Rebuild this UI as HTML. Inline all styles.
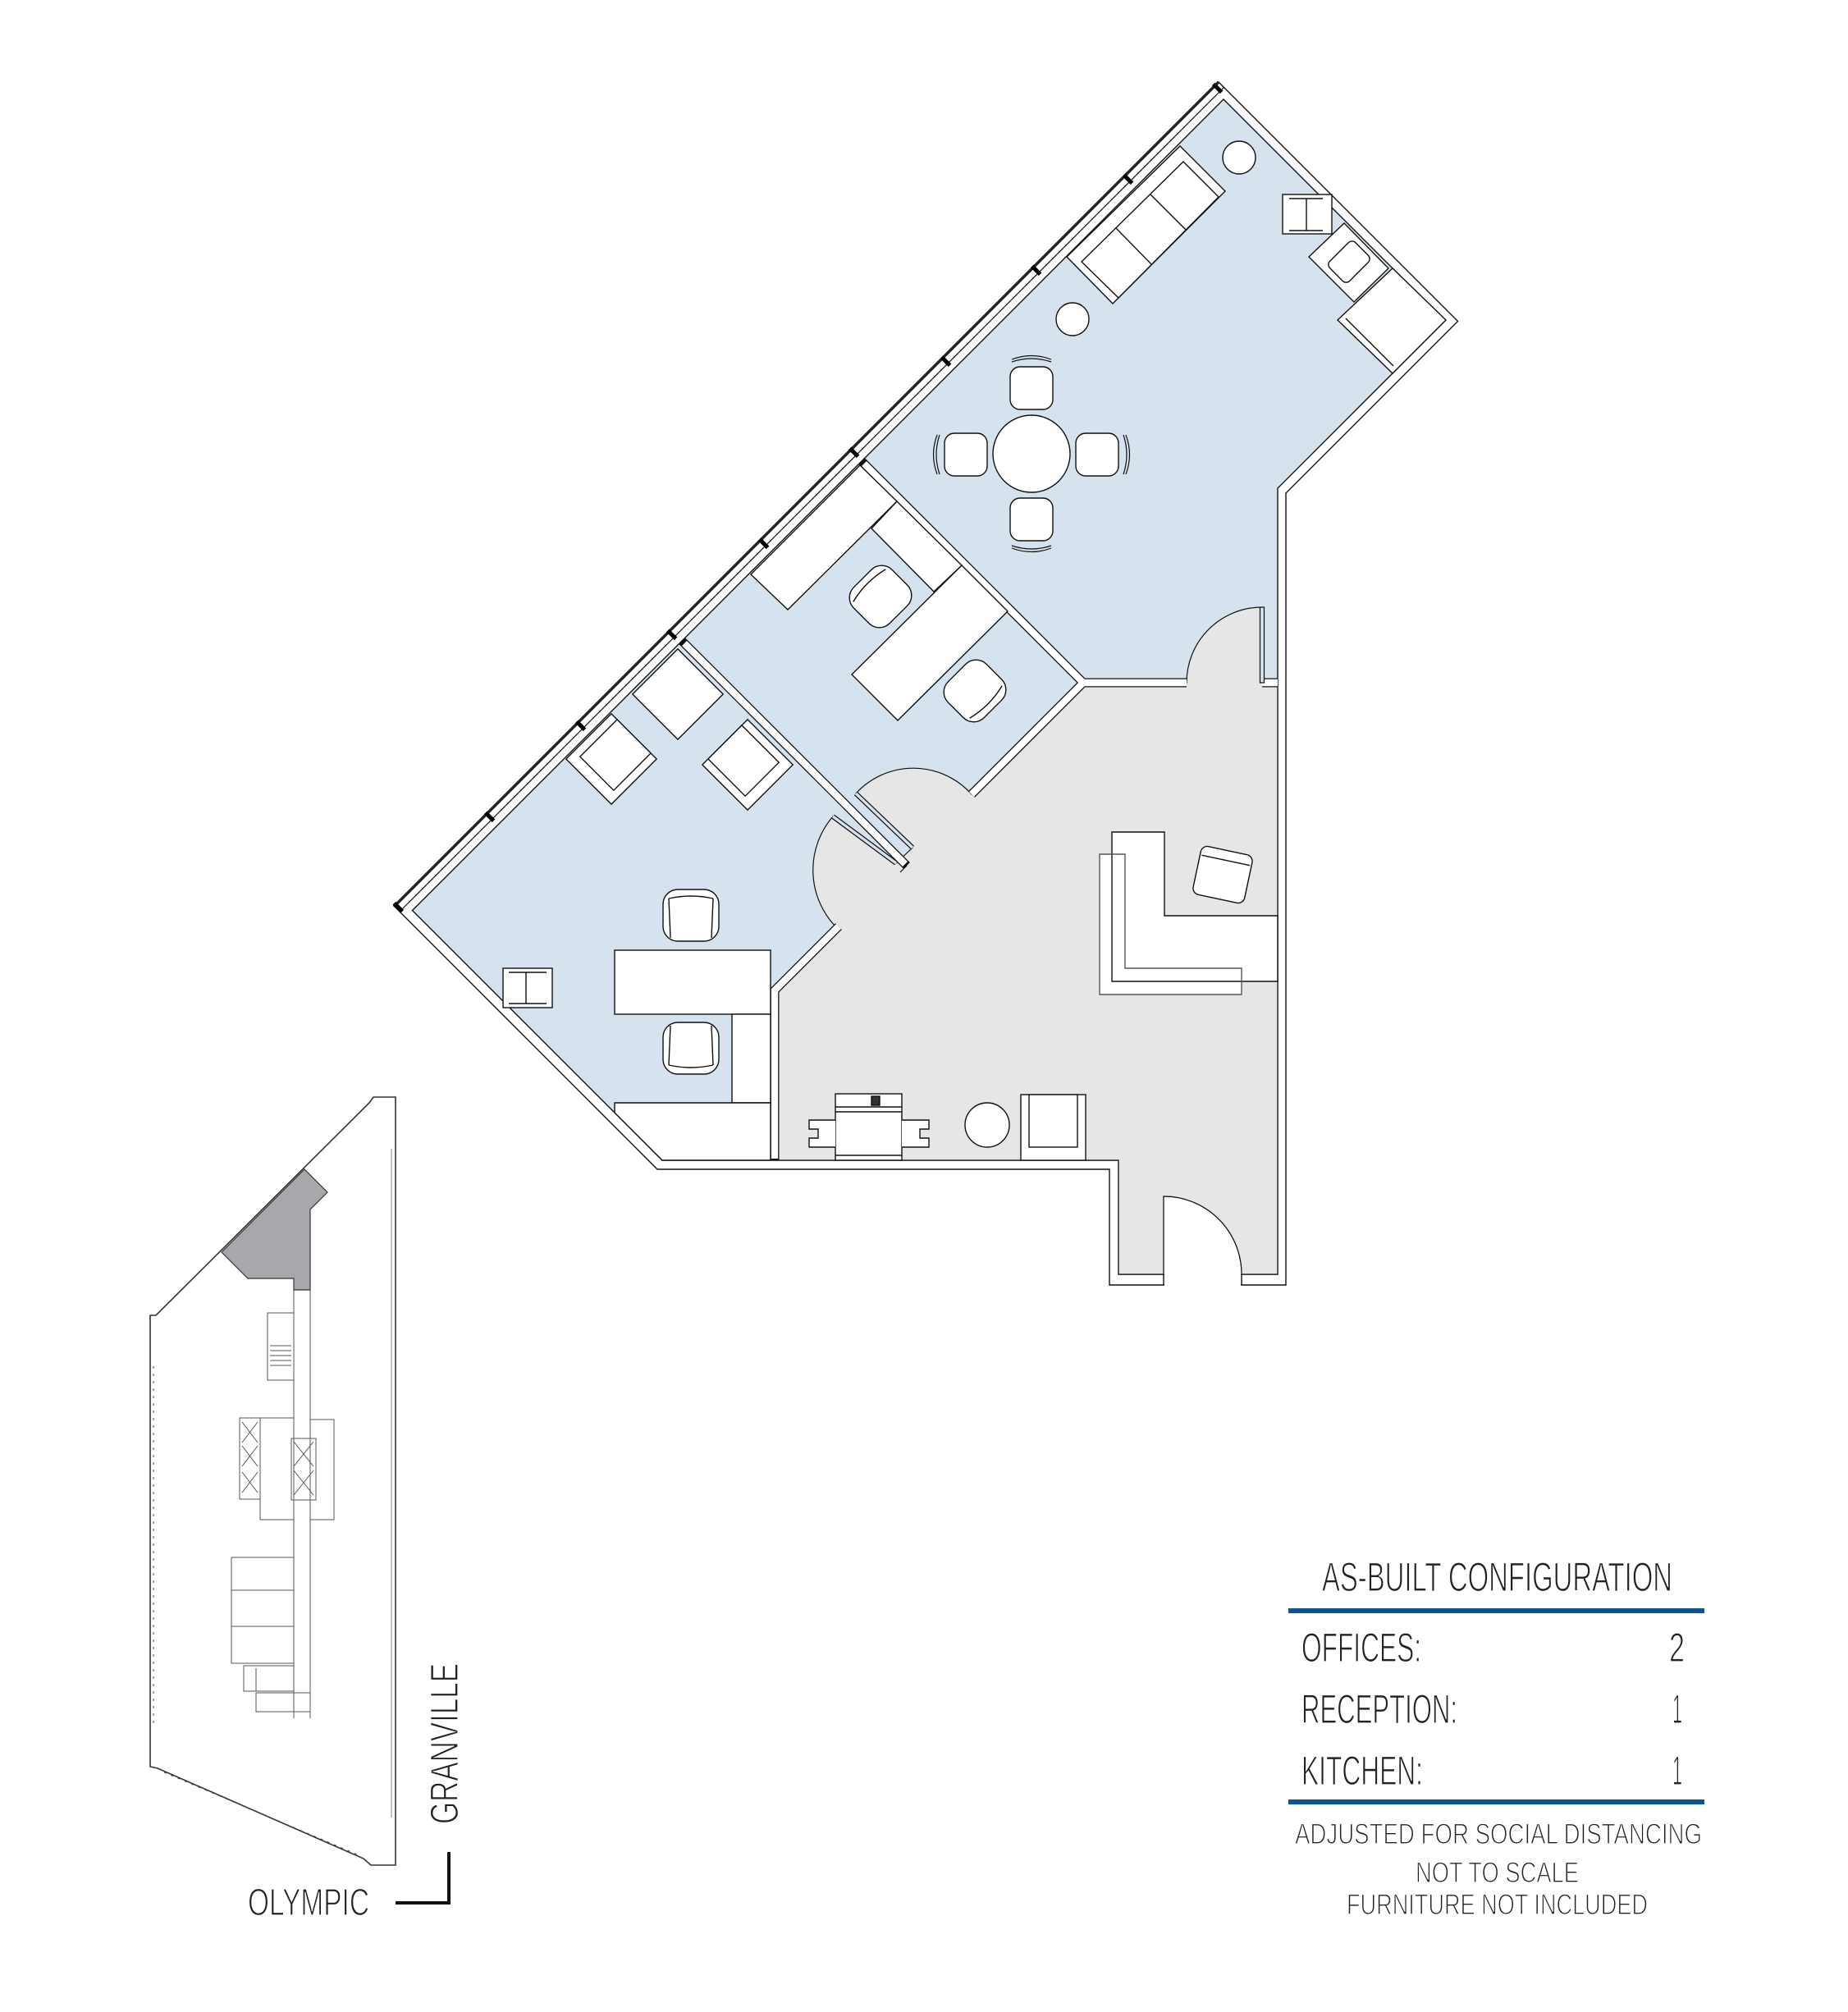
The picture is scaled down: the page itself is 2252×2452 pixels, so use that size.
<!DOCTYPE html>
<html><head><meta charset="utf-8"><style>
html,body{margin:0;padding:0;background:#fff;}
svg{display:block;}
text{font-family:"Liberation Sans Narrow","Liberation Sans",sans-serif;fill:#222;stroke:#fff;stroke-width:1.3;paint-order:fill;}
</style></head><body>
<svg width="2252" height="2452" viewBox="0 0 2252 2452" xmlns="http://www.w3.org/2000/svg">
<rect width="2252" height="2452" fill="#fff"/>
<g stroke="#111" stroke-width="1.4" stroke-linejoin="miter">
<polygon points="480.5,1104.5 1485,100 1776.5,391.5 1567,601 1567,1566 1352,1566 1352,1425 801,1425" fill="#fff"/>
<polygon points="502.5,1109.5 1491,121 1761,391 1557,595 1557,1553 1363,1553 1363,1414 807,1414" fill="#d6e2ee"/>
<path d="M944,1414 L944,1203 L1020,1131 A100 100 0 0 1 1015,995 L1092,1052 L1112,1033 L1043,967 A95 95 0 0 1 1184,968 L1320,832 L1446,832 A92 92 0 0 1 1538,740 L1538,832 L1557,832 L1557,1553 L1513,1553 A95 95 0 0 0 1418,1458 L1418,1553 L1363,1553 L1363,1414 Z" fill="#e6e6e6" stroke-width="1.2"/>
<path d="M1418,1553 L1513,1553 A95 95 0 0 0 1418,1458 Z" fill="#fff" stroke="none"/>
<path d="M1513,1553 A95 95 0 0 0 1418,1458 L1418,1553" fill="none" stroke-width="1.2"/>
<rect x="1419" y="1551" width="93" height="17" fill="#fff" stroke="none"/>
<line x1="1418" y1="1553" x2="1418" y2="1566"/>
<line x1="1513" y1="1553" x2="1513" y2="1566"/>
</g>
<line x1="480" y1="1105" x2="1485" y2="100" stroke="#222" stroke-width="3.5"/>
<line x1="490" y1="1108" x2="1492" y2="106" stroke="#111" stroke-width="1.2"/>
<g fill="#000">
<rect x="483" y="1099" width="5" height="14" transform="rotate(-45 485 1106)"/>
<rect x="594" y="988" width="5" height="14" transform="rotate(-45 597 995)"/>
<rect x="705" y="877" width="5" height="14" transform="rotate(-45 708 884)"/>
<rect x="816" y="766" width="5" height="14" transform="rotate(-45 819 773)"/>
<rect x="928" y="655" width="5" height="14" transform="rotate(-45 931 662)"/>
<rect x="1038" y="544" width="5" height="14" transform="rotate(-45 1041 551)"/>
<rect x="1150" y="433" width="5" height="14" transform="rotate(-45 1153 440)"/>
<rect x="1260" y="322" width="5" height="14" transform="rotate(-45 1263 329)"/>
<rect x="1372" y="211" width="5" height="14" transform="rotate(-45 1375 218)"/>
<rect x="1481" y="100" width="5" height="14" transform="rotate(-45 1484 107)"/>
</g>
<g fill="none" stroke-linecap="butt" stroke-linejoin="miter">
<g stroke="#111" stroke-width="11">
<path d="M1050,562 L1320,832"/>
<path d="M1316,832 L1446,832"/>
<path d="M1538,832 L1557,832"/>
<path d="M1320,832 L1184,968"/>
<path d="M831,781 L1105,1055"/>
<path d="M1022,1129 L944,1207 L944,1414"/>
</g>
<g stroke="#fff" stroke-width="8.4">
<path d="M1053,565 L1320,832"/>
<path d="M1316,832 L1446,832"/>
<path d="M1538,832 L1557,832"/>
<path d="M1320,832 L1184,968"/>
<path d="M834,784 L1103,1053"/>
<path d="M1022,1129 L944,1207 L944,1412"/>
</g>
<g stroke="#111" stroke-width="1.2">
<line x1="1105" y1="1055" x2="1097" y2="1063"/>
<path d="M1092,1052 L1015,995" stroke-width="6"/>
<path d="M1092,1052 L1015,995" stroke="#d6e2ee" stroke-width="3.5"/>
<path d="M1112,1033 L1043,967" stroke-width="6"/>
<path d="M1112,1033 L1043,967" stroke="#d6e2ee" stroke-width="3.5"/>
<rect x="1535.5" y="740" width="5" height="92" fill="#d6e2ee"/>
</g>
</g>
<g stroke="#111" stroke-width="1.4" fill="#fff">
<rect x="749" y="1158" width="190" height="78"/>
<rect x="892" y="1236" width="47" height="108"/>
<polygon points="749,1344 939,1344 939,1414 807,1414 749,1356"/>
<rect x="613" y="1180" width="60" height="48"/>
<line x1="620" y1="1185" x2="666" y2="1185"/><line x1="620" y1="1223" x2="666" y2="1223"/><line x1="641" y1="1185" x2="641" y2="1223"/>
<g transform="translate(842,1115)"><rect x="-34" y="-31" width="68" height="63" rx="18"/><path d="M-27,-20 Q0,-26 27,-20" fill="none"/><line x1="-27" y1="-20" x2="-25" y2="28" /><line x1="27" y1="-20" x2="25" y2="28"/></g>
<g transform="translate(842,1278)"><rect x="-34" y="-32" width="68" height="63" rx="18"/><path d="M-27,20 Q0,26 27,20" fill="none"/><line x1="-27" y1="20" x2="-25" y2="-28"/><line x1="27" y1="20" x2="25" y2="-28"/></g>
<g transform="rotate(45 745 925)"><rect x="706" y="886" width="78" height="78"/><rect x="716" y="886" width="58" height="64"/></g>
<g transform="rotate(-45 911 932)"><rect x="872" y="893" width="78" height="78"/><rect x="882" y="893" width="58" height="64"/></g>
<rect x="787" y="807" width="78" height="78" transform="rotate(45 826 846)"/>
<polygon points="915,700 960,743 1093,611 1048,567"/>
<polygon points="1062,644 1138,721 1172,689 1093,611"/>
<polygon points="1038,822 1094,878 1228,745 1172,689"/>
<g transform="translate(1073,727) rotate(-45)"><rect x="-33" y="-31" width="66" height="62" rx="18"/><path d="M-28,-19 Q0,-26 28,-19" fill="none"/></g>
<g transform="translate(1188,842) rotate(-45)"><rect x="-33" y="-31" width="66" height="62" rx="18"/><path d="M-28,19 Q0,26 28,19" fill="none"/></g>
<circle cx="1257" cy="553" r="47"/>
<rect x="1231" y="447" width="52" height="52" rx="12"/>
<rect x="1231" y="607" width="52" height="52" rx="12"/>
<rect x="1151" y="528" width="52" height="52" rx="12"/>
<rect x="1311" y="528" width="52" height="52" rx="12"/>
<g fill="none" stroke-width="1.2">
<path d="M1233,665 Q1257,673 1281,665"/><path d="M1233,668 Q1257,677 1281,668"/>
<path d="M1233,441 Q1257,433 1281,441"/><path d="M1233,438 Q1257,429 1281,438"/>
<path d="M1145,530 Q1137,554 1145,578"/><path d="M1142,530 Q1133,554 1142,578"/>
<path d="M1369,530 Q1377,554 1369,578"/><path d="M1372,530 Q1381,554 1372,578"/>
</g>
<circle cx="1510" cy="192" r="20"/>
<circle cx="1307" cy="389" r="20"/>
<polygon points="1300,313 1356,370 1493,233 1438,178"/>
<polygon points="1318,319 1363,363 1485,240 1442,197"/>
<line x1="1360" y1="278" x2="1403" y2="322"/><line x1="1402" y1="237" x2="1445" y2="280"/>
<rect x="1563" y="237" width="60" height="48"/>
<line x1="1571" y1="242" x2="1612" y2="242"/><line x1="1571" y1="281" x2="1612" y2="281"/><line x1="1592" y1="242" x2="1592" y2="281"/>
<polygon points="1595,313 1650,368 1692,327 1638,272"/>
<rect x="1622" y="302" width="44" height="34" rx="6" transform="rotate(-45 1644 319)"/>
<polygon points="1630,390 1697,455 1762,390 1697,327"/>
<line x1="1640" y1="388" x2="1698" y2="446"/>
<polygon points="1340,1041 1371,1041 1371,1180 1513,1180 1513,1212 1340,1212" stroke="none"/>
<polygon points="1355,1014 1419,1014 1419,1116 1557,1116 1557,1196 1355,1196"/>
<polygon points="1340,1041 1371,1041 1371,1180 1513,1180 1513,1212 1340,1212" fill="none" stroke="#555"/>
<g transform="translate(1490,1066) rotate(12)"><rect x="-32" y="-30" width="64" height="60" rx="8"/><line x1="-30" y1="-18" x2="30" y2="-18"/></g>
<rect x="1018" y="1333" width="81" height="81"/>
<line x1="1018" y1="1349" x2="1099" y2="1349"/><line x1="1018" y1="1355" x2="1099" y2="1355"/><line x1="1018" y1="1408" x2="1099" y2="1408"/>
<rect x="1062" y="1336" width="10" height="11" fill="#333"/>
<path d="M1018,1365 L986,1365 L986,1376 L997,1376 L997,1387 L986,1387 L986,1398 L1018,1398"/>
<path d="M1099,1365 L1132,1365 L1132,1376 L1121,1376 L1121,1387 L1132,1387 L1132,1398 L1099,1398"/>
<circle cx="1203" cy="1371" r="27"/>
<rect x="1244" y="1334" width="79" height="80"/>
<rect x="1254" y="1334" width="59" height="64"/>
</g>
<g stroke="#333" stroke-width="1.6" fill="none">
<polygon points="450,1344 455,1337 482,1337 482,2273 452,2273 443,2265 192,2155 183,2153 183,1603 190,1603" fill="#fff"/>
<line x1="477" y1="1400" x2="477" y2="2215" stroke="#888" stroke-width="1"/>
<line x1="187" y1="1665" x2="187" y2="2100" stroke="#444" stroke-width="1" stroke-dasharray="3 6"/>
<line x1="200" y1="2160" x2="440" y2="2262" stroke="#444" stroke-width="1" stroke-dasharray="3 6"/>
<polygon points="270,1526 371,1425 399,1453 378,1474 378,1572 358,1572 358,1558 302,1558" fill="#a7a8ab" stroke-width="1.2"/>
<g stroke-width="1" stroke="#555">
<line x1="358" y1="1572" x2="358" y2="2094"/><line x1="378" y1="1572" x2="378" y2="2094"/>
<rect x="326" y="1600" width="32" height="82"/>
<line x1="329" y1="1640" x2="355" y2="1640"/><line x1="329" y1="1646" x2="355" y2="1646"/><line x1="329" y1="1652" x2="355" y2="1652"/><line x1="329" y1="1658" x2="355" y2="1658"/><line x1="329" y1="1664" x2="355" y2="1664"/>
<rect x="292" y="1728" width="25" height="99"/>
<path d="M295,1733 l19,25 m0,-25 l-19,25 M295,1762 l19,25 m0,-25 l-19,25 M295,1794 l19,25 m0,-25 l-19,25"/>
<rect x="317" y="1728" width="41" height="124"/>
<rect x="355" y="1753" width="30" height="75"/>
<path d="M358,1757 l24,30 m0,-30 l-24,30 M358,1792 l24,30 m0,-30 l-24,30"/>
<rect x="378" y="1730" width="29" height="122"/>
<rect x="282" y="1898" width="76" height="129"/>
<line x1="282" y1="1938" x2="358" y2="1938"/><line x1="282" y1="1982" x2="358" y2="1982"/>
<rect x="297" y="2030" width="61" height="31"/>
<line x1="312" y1="2033" x2="312" y2="2061"/>
<rect x="312" y="2063" width="66" height="23"/>
</g>
</g>
<path d="M482,2319 L547,2319 L547,2257" fill="none" stroke="#111" stroke-width="4"/>
<text x="302" y="2334" font-size="46" textLength="148" lengthAdjust="spacingAndGlyphs">OLYMPIC</text>
<text transform="translate(558,2223) rotate(-90)" x="0" y="0" font-size="48" textLength="196" lengthAdjust="spacingAndGlyphs">GRANVILLE</text>
<text x="1611" y="1939" font-size="50" textLength="427" lengthAdjust="spacingAndGlyphs">AS-BUILT CONFIGURATION</text>
<rect x="1570" y="1960" width="507" height="6" fill="#0b5393"/>
<text x="1586" y="2025" font-size="50" textLength="146" lengthAdjust="spacingAndGlyphs">OFFICES:</text>
<text x="2034" y="2025" font-size="50" textLength="19" lengthAdjust="spacingAndGlyphs">2</text>
<text x="1586" y="2100" font-size="50" textLength="190" lengthAdjust="spacingAndGlyphs">RECEPTION:</text>
<text x="2038" y="2100" font-size="50" textLength="12" lengthAdjust="spacingAndGlyphs">1</text>
<text x="1586" y="2175" font-size="50" textLength="148" lengthAdjust="spacingAndGlyphs">KITCHEN:</text>
<text x="2038" y="2175" font-size="50" textLength="12" lengthAdjust="spacingAndGlyphs">1</text>
<rect x="1570" y="2193" width="507" height="6" fill="#0b5393"/>
<text x="1578" y="2247" font-size="35" textLength="496" lengthAdjust="spacingAndGlyphs">ADJUSTED FOR SOCIAL DISTANCING</text>
<text x="1725" y="2294" font-size="35" textLength="199" lengthAdjust="spacingAndGlyphs">NOT TO SCALE</text>
<text x="1641" y="2333" font-size="35" textLength="367" lengthAdjust="spacingAndGlyphs">FURNITURE NOT INCLUDED</text>
</svg>
</body></html>
